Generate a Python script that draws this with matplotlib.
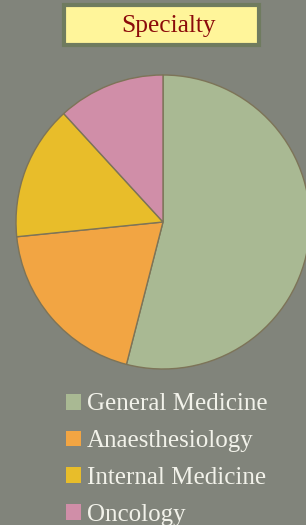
import matplotlib.pyplot as plt
from matplotlib.patches import Rectangle

specialties = ['General Medicine', 'Anaesthesiology', 'Internal Medicine', 'Oncology']
shares = [54, 19.4, 14.8, 11.8]
colors = ['#a9b993', '#f2a543', '#e8bd2a', '#d08ea8']

plt.rcParams['font.family'] = ['Liberation Serif', 'DejaVu Serif']

fig = plt.figure(figsize=(3.06, 5.25), dpi=100)
fig.patch.set_facecolor('#81847b')

# pie, centred around (163, 222) px with radius ~147 px
ax = fig.add_axes([16 / 306, (525 - 369) / 525, 294 / 306, 294 / 525])
wedges, _ = ax.pie(shares, colors=colors, startangle=90, counterclock=False,
                   wedgeprops=dict(edgecolor='#7d7458', linewidth=1))
ax.set_xlim(-1, 1)
ax.set_ylim(-1, 1)
ax.set_aspect('equal')
for w in wedges:
    w.set_clip_on(False)

# title box
fig.add_artist(Rectangle((64 / 306, 1 - 45 / 525), 195 / 306, 40 / 525,
                         transform=fig.transFigure, facecolor='#fff59a',
                         edgecolor='#6f7b5f', linewidth=3))
fig.text(169 / 306, 1 - 26 / 525, 'Specialty', color='#8b0a0a', fontsize=18.3,
         ha='center', va='center')

leg = fig.legend(wedges, specialties, loc='upper left',
                 bbox_to_anchor=(53 / 306, 1 - 381 / 525), frameon=False,
                 fontsize=18, handlelength=0.6, handleheight=0.6,
                 handletextpad=0.25, labelspacing=0.59, borderpad=0)
for t in leg.get_texts():
    t.set_color('#f2f2ea')
for h in leg.legend_handles:
    h.set_edgecolor('none')

fig.savefig('out.png', dpi=100, facecolor=fig.get_facecolor())
